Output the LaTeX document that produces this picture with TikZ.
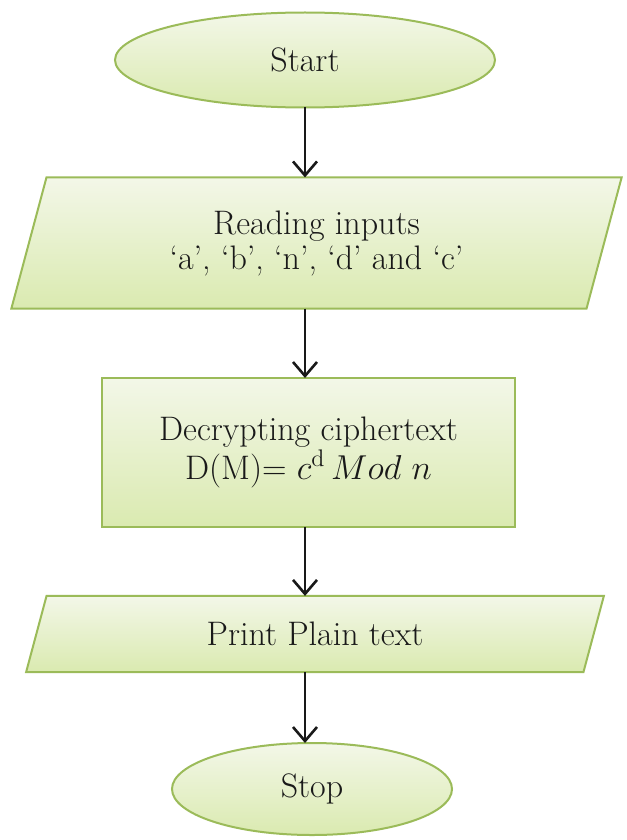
\documentclass[tikz,border=0pt]{standalone}
\usepackage{amsmath}
\usepackage{xcolor}
\usepackage{tikz}
\usetikzlibrary{arrows.meta,positioning,shapes.geometric}
\definecolor{FlowEdge}{RGB}{155,187,89}
\definecolor{FlowTop}{RGB}{243,247,232}
\definecolor{FlowBottom}{RGB}{218,234,176}
\definecolor{FlowText}{RGB}{25,25,25}

\begin{document}
\begin{tikzpicture}[
    x=0.5pt,y=-0.5pt,
    box/.style={draw=FlowEdge, line width=1pt, top color=FlowTop, bottom color=FlowBottom, align=center, text=FlowText, font=\fontsize{17}{17.5}\selectfont, inner sep=2pt, outer sep=0pt},
    terminal/.style={box, ellipse},
    io/.style={box, trapezium, trapezium left angle=75, trapezium right angle=105},
    process/.style={box, rectangle},
    arrow/.style={-{Straight Barb[length=7pt,width=12pt]}, line width=1.3pt, draw=black!90}
  ]
    \useasboundingbox (0,0) rectangle (626,840);
    \node[terminal, minimum width=190pt, minimum height=47.5pt] (start) at (305,60) {Start};
    \node[io, minimum width=306.5pt, minimum height=64pt] (input) at (316.5,243) {Reading inputs\\`a', `b', `n', `d' and `c'};
    \node[process, minimum width=206.5pt, minimum height=74.5pt] (decrypt) at (308.5,452.5) {Decrypting ciphertext\\D(M)= $c^{\mathrm{d}}\,Mod\ n$};
    \node[io, minimum width=289pt, minimum height=34pt] (output) at (315,634) {Print Plain text};
    \node[terminal, minimum width=140pt, minimum height=46pt] (stop) at (312,789) {Stop};
    \foreach \a/\b in {start/input,input/decrypt,decrypt/output,output/stop} {
      \draw[arrow] (\a.south -| start) -- (\b.north -| start);
    }
  \end{tikzpicture}
\end{document}
